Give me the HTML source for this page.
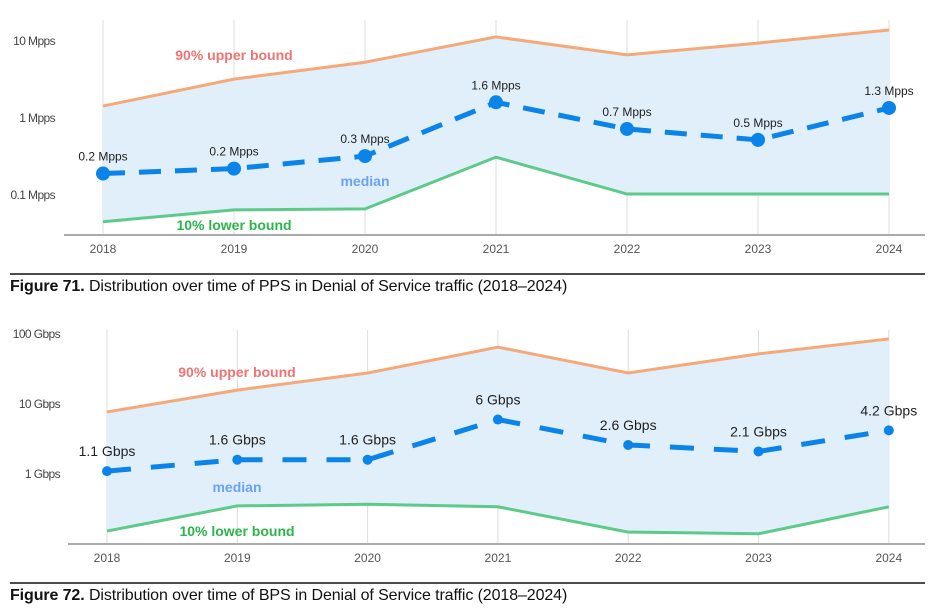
<!DOCTYPE html>
<html><head><meta charset="utf-8"><style>
html,body{margin:0;padding:0;background:#fff;}
svg{display:block;font-family:"Liberation Sans",sans-serif;}
</style></head><body>
<svg id="c" width="936" height="614" viewBox="0 0 936 614"></svg>
<script>
const years = ["2018","2019","2020","2021","2022","2023","2024"];
const ppsUpper = [1.43,3.2,5.3,11.3,6.6,9.4,13.9];
const ppsLower = [0.045,0.064,0.066,0.31,0.103,0.103,0.103];
const ppsMedian = [0.19,0.22,0.32,1.6,0.72,0.52,1.35];
const ppsLabels = ["0.2 Mpps","0.2 Mpps","0.3 Mpps","1.6 Mpps","0.7 Mpps","0.5 Mpps","1.3 Mpps"];
const ppsTicks = [10,1,0.1];
const ppsTickLabels = ["10 Mpps","1 Mpps","0.1 Mpps"];
const bpsUpper = [7.7,15.8,27.7,65,27.7,52,85];
const bpsLower = [0.153,0.35,0.37,0.34,0.148,0.14,0.34];
const bpsMedian = [1.1,1.6,1.6,6,2.6,2.1,4.2];
const bpsLabels = ["1.1 Gbps","1.6 Gbps","1.6 Gbps","6 Gbps","2.6 Gbps","2.1 Gbps","4.2 Gbps"];
const bpsTicks = [100,10,1];
const bpsTickLabels = ["100 Gbps","10 Gbps","1 Gbps"];

const svg = document.getElementById('c');
const NS = 'http://www.w3.org/2000/svg';
function mk(tag, attrs, parent){const e=document.createElementNS(NS,tag);for(const k in attrs)e.setAttribute(k,attrs[k]);(parent||svg).appendChild(e);return e;}

function chart(cfg){
  const g = mk('g',{});
  
  
  const x = i => cfg.x0 + i*cfg.step;
  const y = v => cfg.yRef - Math.log10(v/cfg.vRef)*cfg.dec;
  years.forEach((yr,i)=>{
    const l = mk('line',{x1:x(i),x2:x(i),y1:cfg.gTop,y2:cfg.base,stroke:'#dcdcdc','stroke-width':1},g);
    
    
  });
  let d='';
  cfg.upper.forEach((v,i)=>{d+=(i?'L':'M')+x(i)+','+y(v);});
  for(let i=cfg.lower.length-1;i>=0;i--) d+='L'+x(i)+','+y(cfg.lower[i]);
  const band = mk('path',{d:d+'Z',fill:'#e1effa'},g);
  
  
  const pl = (arr)=>arr.map((v,i)=>x(i)+','+y(v)).join(' ');
  const up = mk('polyline',{points:pl(cfg.upper),fill:'none',stroke:'#f5a878','stroke-width':3},g);
  
  
  const lo = mk('polyline',{points:pl(cfg.lower),fill:'none',stroke:'#5ccb8a','stroke-width':3},g);
  
  
  const med = mk('polyline',{points:pl(cfg.median),fill:'none',stroke:'#0a84e8','stroke-width':cfg.mw,'stroke-dasharray':cfg.dash},g);
  
  
  cfg.median.forEach((v,i)=>{
    const c = mk('circle',{cx:x(i),cy:y(v),r:cfg.r,fill:'#0a84e8'},g);
    
    
    const t = mk('text',{x:x(i),y:y(v)-cfg.lo,'text-anchor':'middle','font-size':cfg.fs,fill:'#222'},g);
    t.textContent = cfg.labels[i];
    
    
  });
  const ax = mk('line',{x1:cfg.axX,x2:925,y1:cfg.base,y2:cfg.base,stroke:'#aaa','stroke-width':2},g);
  
  
  years.forEach((yr,i)=>{
    const t = mk('text',{x:x(i),y:cfg.base+18,'text-anchor':'middle','font-size':12,fill:'#555'},g);
    t.textContent = yr;
    
    
  });
  cfg.ticks.forEach((v,i)=>{
    const t = mk('text',{x:cfg.tickX,y:y(v)+4,'text-anchor':'end','font-size':12,fill:'#444','letter-spacing':'-0.6'},g);
    t.textContent = cfg.tickLabels[i];
    
    
  });
  const a = mk('text',{x:cfg.lx,y:cfg.uy,'text-anchor':'middle','font-size':14,'font-weight':'bold',fill:'#f07373'},g);
  a.textContent='90% upper bound';
  
  
  const b = mk('text',{x:cfg.mx,y:cfg.my,'text-anchor':'middle','font-size':14,'font-weight':'bold',fill:'#6aa3f2'},g);
  b.textContent='median';
  
  
  const c2 = mk('text',{x:cfg.lx,y:cfg.ly,'text-anchor':'middle','font-size':14,'font-weight':'bold',fill:'#2bb54a'},g);
  c2.textContent='10% lower bound';
  
  
  const cl = mk('line',{x1:10,x2:925,y1:cfg.capY,y2:cfg.capY,stroke:'#111','stroke-width':1.5},g);
  
  
  const ct = mk('text',{x:10,y:cfg.capY+17,'font-size':16,fill:'#111','letter-spacing':'-0.1'},g);
  
  
  const bt = mk('tspan',{'font-weight':'bold'},ct); bt.textContent=cfg.capB;
  const rt = mk('tspan',{},ct); rt.textContent=cfg.capR;
}

chart({name:'pps-chart',x0:103,step:131,yRef:118,vRef:1,dec:77,gTop:20,base:235,axX:64,
  upper:ppsUpper,lower:ppsLower,median:ppsMedian,labels:ppsLabels,ticks:ppsTicks,tickLabels:ppsTickLabels,
  mw:5,dash:'22 14',r:7,fs:12,lo:13,tickX:55,lx:234,uy:60,ly:230,mx:365,my:186,
  capY:274,capB:'Figure 71.',capR:' Distribution over time of PPS in Denial of Service traffic (2018\u20132024)'});
chart({name:'bps-chart',x0:107,step:130.3,yRef:404,vRef:10,dec:70,gTop:330,base:544,axX:68,
  upper:bpsUpper,lower:bpsLower,median:bpsMedian,labels:bpsLabels,ticks:bpsTicks,tickLabels:bpsTickLabels,
  mw:5,dash:'24 20',r:5,fs:14,lo:15,tickX:60,lx:237,uy:377,ly:536,mx:237,my:492,
  capY:583,capB:'Figure 72.',capR:' Distribution over time of BPS in Denial of Service traffic (2018\u20132024)'});
</script>
</body></html>
